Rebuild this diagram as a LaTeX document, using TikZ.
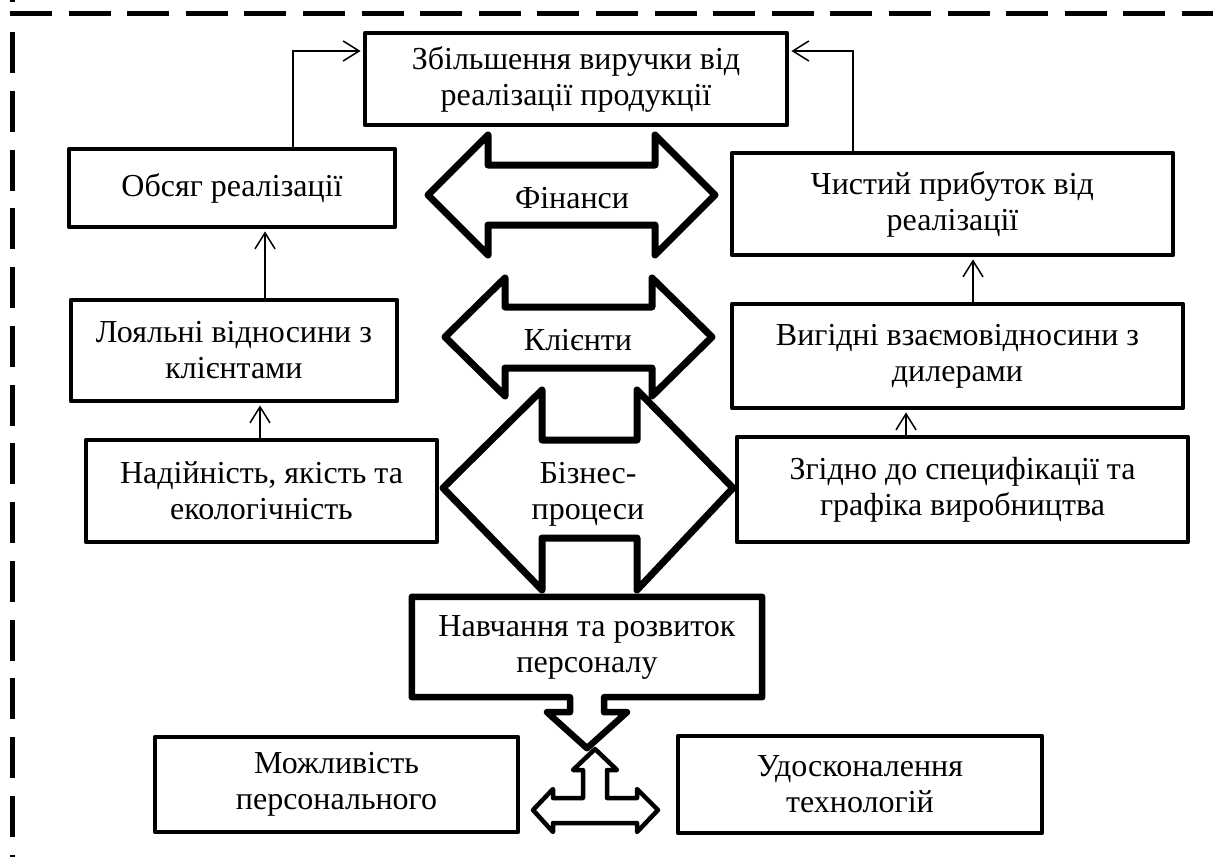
\documentclass[tikz,border=0pt]{standalone}
\usepackage{fontspec}
\setmainfont{Liberation Serif}
\usetikzlibrary{arrows.meta,calc}
\begin{document}
\begin{tikzpicture}[x=1pt,y=-1pt,
  txt/.style={font=\fontsize{32pt}{36pt}\selectfont, align=center, inner sep=0pt},
  box/.style={txt, draw, line width=4.5pt, line join=round, rectangle},
  conn/.style={line width=1.5pt, shorten >=2.2pt, -{Straight Barb[length=16pt,width=20pt,line width=1.5pt]}},
  bigarrow/.style={line width=7pt, line join=round},
  tarrow/.style={line width=4.5pt, line join=round},
  frame/.style={line width=5pt}]
\useasboundingbox (0,0) rectangle (1213,857);

% dashed frame
\draw[frame, dash pattern=on 42pt off 16.6pt] (10,13) -- (1213,13);
\draw[frame, dash pattern=on 41pt off 17.75pt] (12,32) -- (12,857);
\draw[frame] (12,0) -- (12,2);

% boxes
\node[box, minimum width=422pt, minimum height=92pt] (top) at (576,79) {Збільшення виручки від\\реалізації продукції};
\node[box, minimum width=326pt, minimum height=78pt] (obs) at (232,188) {Обсяг реалізації};
\node[box, minimum width=326pt, minimum height=101pt] (loyal) at (234,350.5) {Лояльні відносини з\\клієнтами};
\node[box, minimum width=351pt, minimum height=102pt] (nad) at (261.5,491) {Надійність, якість та\\екологічність};
\node[box, minimum width=441pt, minimum height=102pt] (chyst) at (952.5,204) {Чистий прибуток від\\реалізації};
\node[box, minimum width=451pt, minimum height=104pt] (vyg) at (957.5,356) {Вигідні взаємовідносини з\\дилерами};
\node[box, minimum width=451pt, minimum height=105pt] (zgid) at (962.5,489.5) {Згідно до специфікації та\\графіка виробництва};
\node[txt, minimum width=350pt, minimum height=100pt] (navch) at (587,647) {Навчання та розвиток\\персоналу};
\node[box, minimum width=363pt, minimum height=95pt] (mozh) at (336.5,784.5) {Можливість\\персонального};
\node[box, minimum width=364pt, minimum height=97pt] (udos) at (860,784.5) {Удосконалення\\технологій};

% connectors
\coordinate (cl) at (293,51);
\coordinate (cr) at (853,51);
\draw[conn] (obs.north -| cl) -- (cl) -- (top.west |- cl);
\draw[conn] (chyst.north -| cr) -- (cr) -- (top.east |- cr);
\coordinate (x1) at (265,0);
\coordinate (x2) at (260,0);
\coordinate (x3) at (973,0);
\coordinate (x4) at (906,0);
\draw[conn] (loyal.north -| x1) -- (obs.south -| x1);
\draw[conn] (nad.north -| x2) -- (loyal.south -| x2);
\draw[conn] (vyg.north -| x3) -- (chyst.south -| x3);
\draw[conn] (zgid.north -| x4) -- (vyg.south -| x4);

% big arrows
\draw[bigarrow] (428,195) -- (488,135) -- (488,165) -- (655,165) -- (655,135) -- (715,195) -- (655,255) -- (655,225) -- (488,225) -- (488,255) -- cycle;
\node[txt] (fin) at (572,198) {Фінанси};
\draw[bigarrow] (445,337) -- (505,278) -- (505,307) -- (652,307) -- (652,278) -- (712,337) -- (652,396) -- (652,368) -- (505,368) -- (505,396) -- cycle;
\node[txt] (kli) at (578,340) {Клієнти};
\draw[bigarrow] (542,390) -- (542,440) -- (637,440) -- (637,390) -- (733,488) -- (637,590) -- (637,538) -- (542,538) -- (542,590) -- (443,488) -- cycle;
\node[txt] (biz) at (588,494) {Бізнес-\\процеси};

% Навчання box with down arrow
\draw[line width=6.5pt, line join=round]
  ($(navch.south)+(-17,0)$) -- (navch.south west) -- (navch.north west) -- (navch.north east) -- (navch.south east)
  -- ($(navch.south)+(17,0)$) -- ($(navch.south)+(17,15)$) -- ($(navch.south)+(40,15)$)
  -- ($(navch.south)+(0,51)$) -- ($(navch.south)+(-40,15)$) -- ($(navch.south)+(-17,15)$) -- cycle;

% T arrow
\draw[tarrow] (595,749) -- (617,770) -- (607,770) -- (607,798) -- (637,798) -- (637,789) -- (658,810) -- (637,832) -- (637,823)
  -- (553,823) -- (553,832) -- (533,810) -- (553,789) -- (553,798) -- (583,798) -- (583,770) -- (573,770) -- cycle;
\end{tikzpicture}
\end{document}
